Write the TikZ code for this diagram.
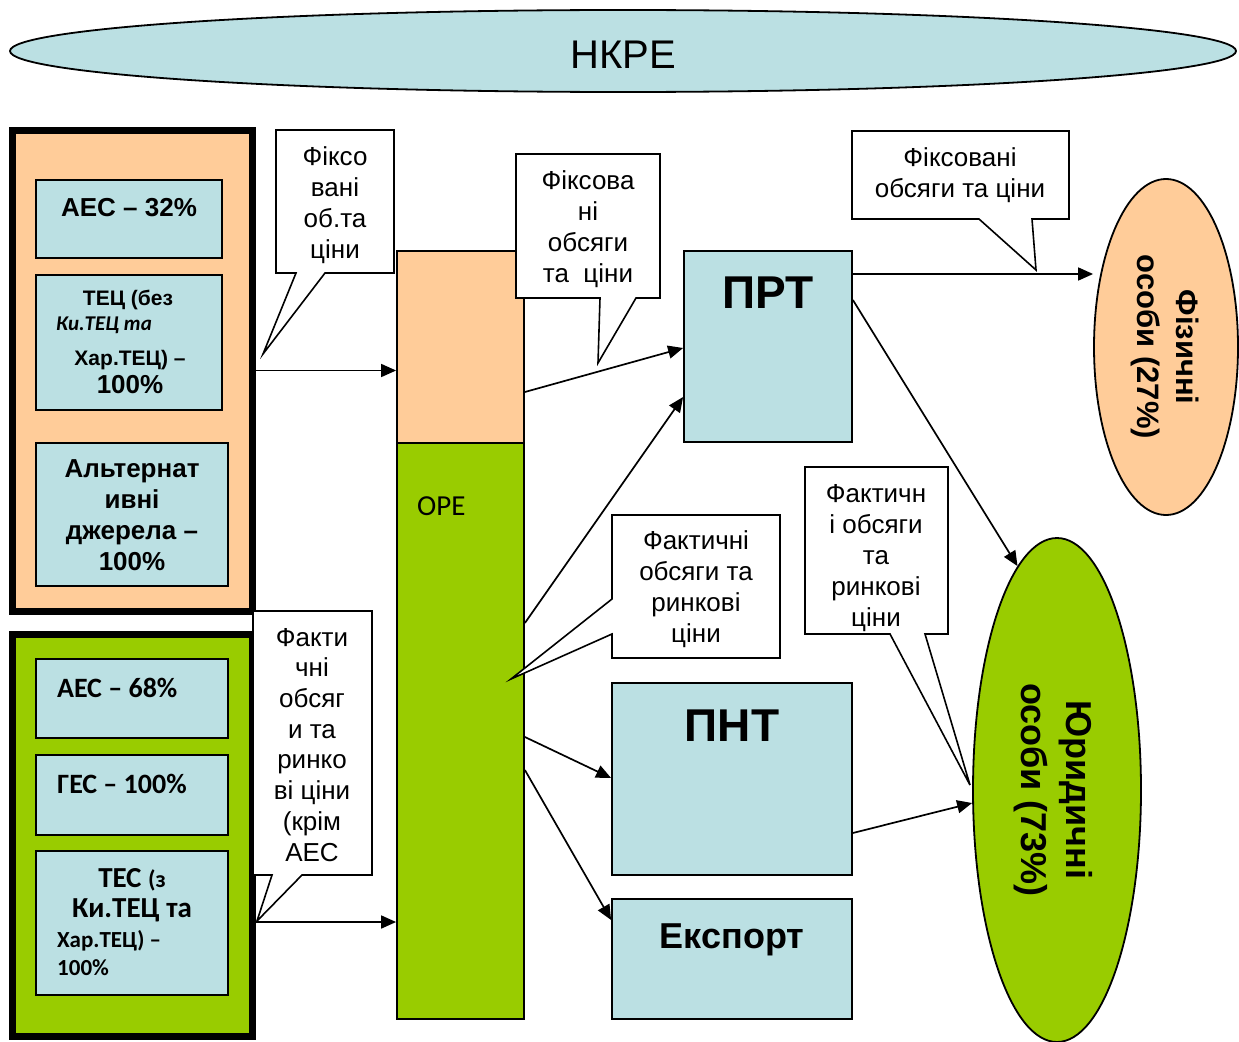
\documentclass[tikz,border=0pt]{standalone}
\usepackage{fontspec}
\setmainfont{Liberation Sans}
\newfontfamily\calib{Carlito}
\usetikzlibrary{shapes.geometric,arrows.meta}
\definecolor{lblue}{RGB}{187,224,227}
\definecolor{peach}{RGB}{255,204,153}
\definecolor{lgreen}{RGB}{153,204,0}
\newcommand\fsz[2]{\fontsize{#1}{#2}\selectfont}
\begin{document}
\begin{tikzpicture}[x=1pt,y=-1pt,
  box/.style={draw, line width=1.8pt, fill=lblue, inner sep=0pt, rectangle},
  grp/.style={draw, line width=7pt, inner sep=0pt, rectangle},
  callout/.style={draw, line width=1.6pt, fill=white, line join=miter},
  arr/.style={-{Triangle[length=15pt,width=13pt]}, line width=1.7pt},
  txt/.style={inner sep=0pt, align=center, anchor=base},
  oval/.style={draw, ellipse, line width=1.8pt, inner sep=0pt},
]
\fill[white] (0,0) rectangle (1239,1041);
\useasboundingbox (0,0) rectangle (1239,1041);

% helper coordinates
\foreach \n in {274,300,348,392,397,623,737,770,778,803,833,920,922}{\coordinate (c\n) at (0,\n);}

% НКРЕ
\node[oval, fill=lblue, minimum width=1226pt, minimum height=82pt] (nkre) at (623,51) {};
\node[txt, font=\fsz{40}{48}] (nkret) at (623,69) {НКРЕ};

% top-left group
\node[grp, fill=peach, minimum width=240pt, minimum height=481pt] (topgrp) at (132,370.5) {};
\node[box, minimum width=186pt, minimum height=78pt] (b1) at (129,219) {};
\node[box, minimum width=186pt, minimum height=135pt] (b2) at (129,342.5) {};
\node[box, minimum width=192pt, minimum height=143pt] (b3) at (132,514.5) {};
\node[txt, font=\bfseries\fsz{26}{31}] (b1t) at (129,216) {АЕС – 32\%};
\node[txt, font=\bfseries\fsz{21}{25}] (b2ta) at (128,305) {ТЕЦ (без};
\node[txt, font=\calib\bfseries\itshape\fsz{21}{24}, anchor=base west] (b2tb) at (56,330) {Ки.ТЕЦ та};
\node[txt, font=\bfseries\fsz{21}{25}] (b2tc) at (130,365) {Хар.ТЕЦ) –};
\node[txt, font=\bfseries\fsz{26}{31}] (b2td) at (130,393) {100\%};
\node[txt, font=\bfseries\fsz{26}{30.7}] (b3t) at (132,570) {Альтернат\\ивні\\джерела –\\100\%};

% bottom-left group
\node[grp, fill=lgreen, minimum width=240pt, minimum height=402pt] (botgrp) at (132,835) {};
\node[box, minimum width=192pt, minimum height=79pt] (b4) at (132,698.5) {};
\node[box, minimum width=192pt, minimum height=80pt] (b5) at (132,795) {};
\node[box, minimum width=192pt, minimum height=144pt] (b6) at (132,923) {};
\node[txt, font=\calib\bfseries\fsz{28}{33}, anchor=base west] (b4t) at (57,697) {АЕС – 68\%};
\node[txt, font=\calib\bfseries\fsz{28}{33}, anchor=base west] (b5t) at (57,793) {ГЕС – 100\%};
\node[txt, font=\calib\bfseries\fsz{29}{30}] (b6ta) at (132,917) {ТЕС {\fsz{24}{30}(з}\\Ки.ТЕЦ та};
\node[txt, font=\calib\bfseries\fsz{23}{28}, anchor=base west, align=left] (b6tb) at (57,975) {Хар.ТЕЦ) –\\100\%};

% ОРЕ column
\node[box, fill=peach, minimum width=127pt, minimum height=192pt] (opetop) at (460.5,347) {};
\node[box, fill=lgreen, minimum width=127pt, minimum height=576pt] (opebot) at (460.5,731) {};
\node[txt, font=\calib\fsz{29}{34}, anchor=base west] (opet) at (417,515) {ОРЕ};

% right boxes
\node[box, minimum width=168pt, minimum height=191pt] (prt) at (768,346.5) {};
\node[txt, font=\bfseries\fsz{46}{54}] (prtt) at (768,308) {ПРТ};
\node[box, minimum width=240pt, minimum height=192pt] (pnt) at (732,779) {};
\node[txt, font=\bfseries\fsz{46}{54}] (pntt) at (732,741) {ПНТ};
\node[box, minimum width=240pt, minimum height=120pt] (exp) at (732,959) {};
\node[txt, font=\bfseries\fsz{36}{42}] (expt) at (732,948) {Експорт};

% ellipses
\node[oval, fill=peach, minimum width=144pt, minimum height=336pt] (fiz) at (1166,347) {};
\node[inner sep=0pt, align=center, rotate=-90, font=\bfseries\fsz{31}{39}] (fizt) at (1165,347) {Фізичні\\особи (27\%)};
\node[oval, fill=lgreen, minimum width=168pt, minimum height=504pt] (yur) at (1057,790) {};
\node[inner sep=0pt, align=center, rotate=-90, font=\bfseries\fsz{36}{45}] (yurt) at (1053,790) {Юридичні\\особи (73\%)};

% callouts
\draw[callout] (276,130) -- (394,130) -- (394,273) -- (325,273) -- (263,354) -- (296,273) -- (276,273) -- cycle;
\node[txt, font=\fsz{26}{30.7}] (k1) at (335,258) {Фіксо\\вані\\об.та\\ціни};

\draw[callout] (516,154) -- (660,154) -- (660,298) -- (636,298) -- (598,363) -- (600,298) -- (516,298) -- cycle;
\node[txt, font=\fsz{26}{30.7}] (k2) at (588,282) {Фіксова\\ні\\обсяги\\та\ \ ціни};

\draw[callout] (852,131) -- (1069,131) -- (1069,219) -- (1032,219) -- (1036,270) -- (979,219) -- (852,219) -- cycle;
\node[txt, font=\fsz{26}{31}] (k3) at (960,197) {Фіксовані\\обсяги та ціни};

\draw[callout] (612,515) -- (780,515) -- (780,658) -- (612,658) -- (612,634) -- (511,679) -- (612,599) -- cycle;
\node[txt, font=\fsz{26}{30.7}] (k4) at (696,642) {Фактичні\\обсяги та\\ринкові\\ціни};

\draw[callout] (805,467) -- (948,467) -- (948,634) -- (925,634) -- (970,785) -- (890,634) -- (805,634) -- cycle;
\node[txt, font=\fsz{26}{30.9}] (k5) at (876,626) {Фактичн\\і обсяги\\та\\ринкові\\ціни};

\draw[callout] (253,611) -- (372,611) -- (372,875) -- (302,875) -- (257,921) -- (272,875) -- (253,875) -- cycle;
\node[txt, font=\fsz{26}{30.7}] (k6) at (312,861) {Факти\\чні\\обсяг\\и та\\ринко\\ві ціни\\(крім\\АЕС};

% connectors
\draw[arr] (topgrp.east) -- (topgrp.east -| opetop.west);
\draw[arr] (botgrp.east |- c922) -- (opebot.west |- c922);
\draw[arr] (opetop.east |- c392) -- (prt.west |- c348);
\draw[arr] (opebot.east |- c623) -- (prt.west |- c397);
\draw[arr] (opebot.east |- c737) -- (pnt.west |- c778);
\draw[arr] (opebot.east |- c770) -- (exp.west |- c920);
\draw[arr] (prt.east |- c274) -- (fiz.west |- c274);
\draw[arr] (prt.east |- c300) -- (yur.100);
\draw[arr] (pnt.east |- c833) -- (yur.west |- c803);
\end{tikzpicture}
\end{document}
